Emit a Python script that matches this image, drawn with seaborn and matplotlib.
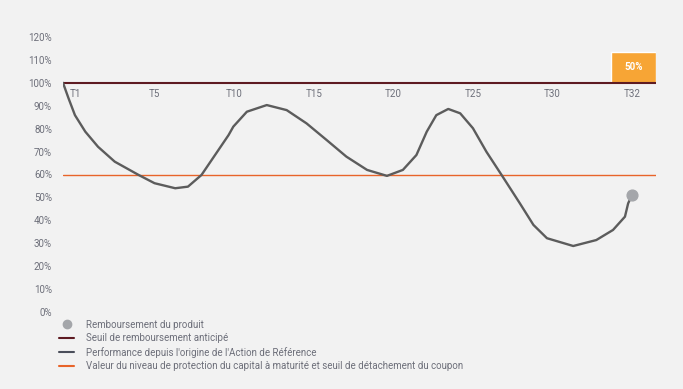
import matplotlib
matplotlib.use("Agg")
import matplotlib.pyplot as plt
import seaborn as sns
import pandas as pd
from matplotlib.lines import Line2D

sns.set_theme(style="white")
plt.rcParams['font.family'] = ['Roboto', 'DejaVu Sans']

# Observation dates (categorical, equally spaced)
periods = ["T1", "T5", "T10", "T15", "T20", "T25", "T30", "T32"]
# Performance curve, x in period-index units, y in %
curve_x = [-0.15, -0.08, 0.0, 0.13, 0.29, 0.50, 0.80, 1.00, 1.26, 1.42, 1.59,
           1.76, 1.93, 1.99, 2.16, 2.41, 2.66, 2.91, 3.16, 3.41, 3.67, 3.92,
           4.12, 4.29, 4.42, 4.54, 4.69, 4.84, 5.00, 5.17, 5.36, 5.59, 5.76,
           5.93, 6.26, 6.55, 6.76, 6.91, 6.95, 7.0]
curve_y = [100, 93.2, 85.9, 78.7, 72.1, 65.6, 59.8, 56.2, 54.0, 54.7, 59.8,
           68.5, 77.2, 80.9, 87.4, 90.3, 88.1, 82.3, 75.1, 67.8, 62.0, 59.4,
           62.0, 68.5, 78.7, 85.9, 88.6, 86.7, 80.2, 69.9, 59.8, 47.4, 38.0,
           32.2, 28.8, 31.4, 35.8, 41.6, 47.4, 51.1]
barrier_autocall = 100
barrier_protection = 60
coupon_label = "50%"
coupon_bar_x0 = 6.73
coupon_bar_height = 13.5
redemption_x = 7.0
redemption_y = 51.1

df = pd.DataFrame({"x": curve_x, "y": curve_y})

fig = plt.figure(figsize=(6.83, 3.89), dpi=100, facecolor="#f2f2f2")
ax = fig.add_axes([63/683, 1-312/389, (656-63)/683, (312-37)/389])
ax.set_facecolor("#f2f2f2")

xl, xr = -0.15, 7.3
ax.set_xlim(xl, xr)
ax.set_ylim(0, 120)

col_red = "#5e1b22"
col_curve = "#5c5c5c"
col_orange = "#e8642a"
col_tick = "#6d6f7a"

ax.axhline(barrier_protection, color=col_orange, lw=1.0, zorder=1)
ax.bar([coupon_bar_x0], [coupon_bar_height], width=xr - coupon_bar_x0,
       bottom=barrier_autocall, align="edge", color="#f7a535", zorder=2)
ax.text(coupon_bar_x0 + (xr - coupon_bar_x0) / 2, barrier_autocall + coupon_bar_height * 0.5,
        coupon_label, color="white", fontsize=7, fontweight="bold",
        ha="center", va="center", zorder=3)
ax.axhline(barrier_autocall, color=col_red, lw=1.5, zorder=3)

sns.lineplot(data=df, x="x", y="y", sort=False, color=col_curve, lw=1.7,
             ax=ax, zorder=4, solid_joinstyle="round", solid_capstyle="round")
ax.scatter([redemption_x], [redemption_y], s=60, color="#a4a6aa", zorder=5)

for i, p in enumerate(periods):
    ax.text(i, 97.5, p, ha="center", va="top", fontsize=7, color=col_tick)

ax.set_xticks([])
ax.set_yticks(range(0, 121, 10))
ax.set_yticklabels([f"{v}%" for v in range(0, 121, 10)], fontsize=7, color=col_tick)
ax.tick_params(axis="y", length=0, pad=8)
ax.set_xlabel("")
ax.set_ylabel("")
for s in ax.spines.values():
    s.set_visible(False)

handles = [
    Line2D([], [], marker="o", linestyle="none", color="#a4a6aa", markersize=6),
    Line2D([], [], color=col_red, lw=1.5),
    Line2D([], [], color="#4a4e5a", lw=1.5),
    Line2D([], [], color=col_orange, lw=1.5),
]
labels = [
    "Remboursement du produit",
    "Seuil de remboursement anticipé",
    "Performance depuis l'origine de l'Action de Référence",
    "Valeur du niveau de protection du capital à maturité et seuil de détachement du coupon",
]
fig.legend(handles, labels, loc="upper left", bbox_to_anchor=(55/683, 1-316/389),
           frameon=False, fontsize=7, labelcolor=col_tick, handlelength=1.6,
           handletextpad=1.2, labelspacing=0.35, borderaxespad=0)

fig.savefig("out.png", dpi=100, facecolor=fig.get_facecolor())
